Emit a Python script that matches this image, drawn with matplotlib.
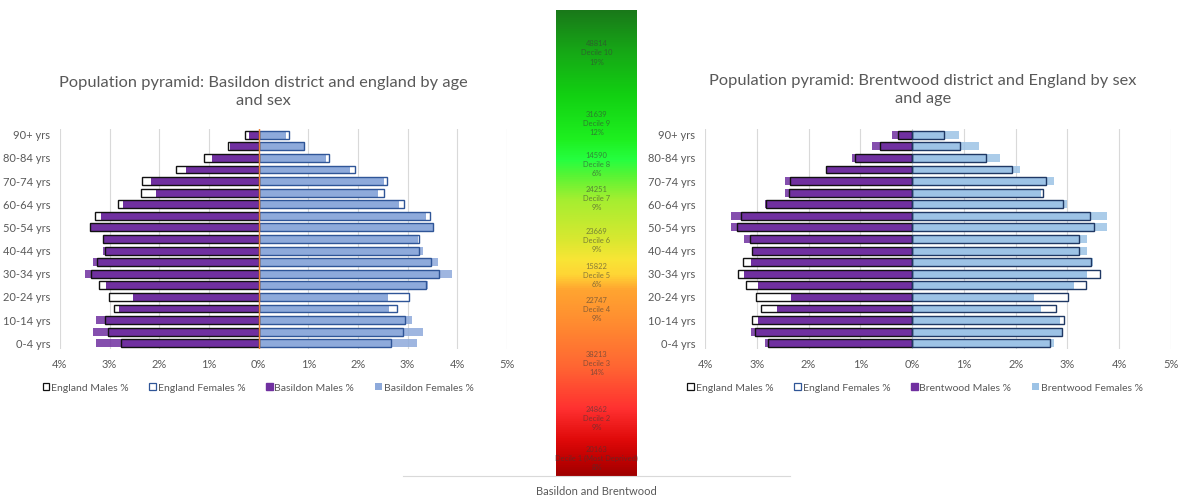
import numpy as np
import matplotlib
matplotlib.use("Agg")
import matplotlib.pyplot as plt
from matplotlib.colors import LinearSegmentedColormap
from matplotlib.patches import Patch

plt.rcParams['font.family'] = ['Lato', 'DejaVu Sans']

# Age bands, youngest first (bottom of the pyramid)
age_groups = ["0-4 yrs", "5-9 yrs", "10-14 yrs", "15-19 yrs", "20-24 yrs",
              "25-29 yrs", "30-34 yrs", "35-39 yrs", "40-44 yrs", "45-49 yrs",
              "50-54 yrs", "55-59 yrs", "60-64 yrs", "65-69 yrs", "70-74 yrs",
              "75-79 yrs", "80-84 yrs", "85-89 yrs", "90+ yrs"]

# Percent of population in each band
england_males = [2.78, 3.04, 3.09, 2.92, 3.01, 3.21, 3.37, 3.26, 3.09, 3.13,
                 3.39, 3.30, 2.83, 2.37, 2.35, 1.67, 1.11, 0.62, 0.28]
england_females = [2.66, 2.90, 2.94, 2.78, 3.02, 3.36, 3.63, 3.46, 3.22, 3.22,
                   3.51, 3.44, 2.92, 2.53, 2.59, 1.93, 1.42, 0.92, 0.61]
basildon_males = [3.28, 3.34, 3.28, 2.81, 2.54, 3.08, 3.50, 3.34, 3.13, 3.12,
                  3.39, 3.17, 2.74, 2.06, 2.16, 1.47, 0.94, 0.57, 0.20]
basildon_females = [3.19, 3.30, 3.09, 2.62, 2.61, 3.41, 3.89, 3.62, 3.30, 3.21,
                    3.50, 3.36, 2.83, 2.40, 2.52, 1.83, 1.36, 0.93, 0.55]
brentwood_males = [2.85, 3.11, 2.98, 2.60, 2.34, 2.98, 3.25, 3.12, 3.10, 3.25,
                   3.50, 3.50, 2.85, 2.46, 2.46, 1.67, 1.16, 0.77, 0.39]
brentwood_females = [2.74, 2.91, 2.86, 2.48, 2.35, 3.13, 3.38, 3.50, 3.38, 3.38,
                     3.77, 3.77, 2.99, 2.48, 2.74, 2.08, 1.69, 1.30, 0.91]

# Deprivation deciles for Basildon and Brentwood combined
decile_names = ["Decile 1 (Most Deprived)", "Decile 2", "Decile 3", "Decile 4",
                "Decile 5", "Decile 6", "Decile 7", "Decile 8", "Decile 9",
                "Decile 10"]
decile_counts = [20163, 24862, 38213, 22747, 15822, 23669, 24251, 14590,
                 31639, 48814]
decile_pct = [8, 9, 14, 9, 6, 9, 9, 6, 12, 19]

x_ticks = [-4, -3, -2, -1, 0, 1, 2, 3, 4, 5]

GREY = '#595959'
PURPLE = '#7030A0'

fig = plt.figure(figsize=(11.8, 4.98), dpi=100)
fig.patch.set_facecolor('white')

# Central stacked deprivation bar with gradient fill (drawn first, behind the pyramids)
axc = fig.add_axes([403 / 1180, 1 - 476 / 498, 387 / 1180, 466 / 498])
axc.patch.set_visible(False)
total = sum(decile_counts)
bottoms = np.concatenate([[0], np.cumsum(decile_counts)[:-1]])
width = 0.207
axc.bar(0, decile_counts, bottom=bottoms, width=width, color='none', lw=0)
stops = [(0.0, '#a00000'), (0.034, '#c00000'), (0.077, '#e00a0a'),
         (0.142, '#ff3030'), (0.234, '#ff6633'), (0.328, '#ff8c30'),
         (0.399, '#ffa530'), (0.431, '#ffd535'), (0.464, '#f8e535'),
         (0.506, '#d9e830'), (0.592, '#a5ee30'), (0.646, '#55f535'),
         (0.678, '#25ff40'), (0.721, '#1ef020'), (0.818, '#12d012'),
         (0.914, '#16a616'), (1.0, '#1a781a')]
cmap = LinearSegmentedColormap.from_list('depr', stops)
axc.imshow(np.linspace(0, 1, 512).reshape(-1, 1), cmap=cmap, origin='lower',
           extent=[-width / 2, width / 2, 0, total], aspect='auto', zorder=2)
for b, c, n, p in zip(bottoms, decile_counts, decile_names, decile_pct):
    axc.text(0, b + c / 2, f"{c}\n{n}\n{p}%", ha='center', va='center',
             fontsize=5.4, color='#3a3a3a', alpha=0.6, linespacing=1.35, zorder=3)
axc.set_xlim(-0.5, 0.5)
axc.set_ylim(0, total)
axc.set_xticks([0])
axc.set_xticklabels(["Basildon and Brentwood"])
axc.set_yticks([])
for name, s in axc.spines.items():
    s.set_visible(name == 'bottom')
axc.spines['bottom'].set_color('#d9d9d9')
axc.tick_params(length=0, colors=GREY, labelsize=8, pad=7)


def pyramid(rect, males, females, female_col, female_edge, zero_line):
    ax = fig.add_axes(rect)
    ax.patch.set_visible(False)
    y = np.arange(len(age_groups))
    em = np.array(england_males)
    ef = np.array(england_females)
    m = np.array(males)
    f = np.array(females)
    h = 0.68
    # England background (white boxes)
    ax.barh(y, -em, height=h, color='white', lw=0, zorder=2)
    ax.barh(y, ef, height=h, color='white', lw=0, zorder=2)
    # District bars: soft where they extend past England, solid where they overlap
    ax.barh(y, -m, height=h, color=PURPLE, alpha=0.85, lw=0, zorder=3)
    ax.barh(y, -np.minimum(m, em), height=h, color=PURPLE, lw=0, zorder=4)
    ax.barh(y, f, height=h, color=female_col, alpha=0.85, lw=0, zorder=3)
    ax.barh(y, np.minimum(f, ef), height=h, color=female_col, lw=0, zorder=4)
    # England outlines
    ax.barh(y, -em, height=h, facecolor='none', edgecolor='#111111', lw=1.0, zorder=5)
    ax.barh(y, ef, height=h, facecolor='none', edgecolor=female_edge, lw=1.0, zorder=5)
    if zero_line:
        ax.axvline(0, color='#ED7D31', lw=1.0, zorder=6)
    ax.set_xlim(-4, 5)
    ax.set_ylim(-0.5, len(age_groups) - 0.5)
    ax.set_xticks(x_ticks)
    ax.set_xticklabels([f"{abs(t)}%" for t in x_ticks])
    ax.set_yticks(y[::2])
    ax.set_yticklabels(age_groups[::2])
    ax.grid(axis='x', color='#d9d9d9', lw=0.8)
    ax.set_axisbelow(True)
    for s in ax.spines.values():
        s.set_visible(False)
    ax.tick_params(length=0, colors=GREY, labelsize=8)
    ax.tick_params(axis='x', pad=7)
    ax.tick_params(axis='y', pad=7)
    return ax


pyramid([60 / 1180, 1 - 349 / 498, 447 / 1180, 220 / 498],
        basildon_males, basildon_females, '#8EAADB', '#2F5597', True)
pyramid([705 / 1180, 1 - 349 / 498, 466 / 1180, 220 / 498],
        brentwood_males, brentwood_females, '#9DC3E6', '#1F3864', False)

fig.text(263 / 1180, 1 - 92 / 498,
         "Population pyramid: Basildon district and england by age\nand sex",
         ha='center', va='center', fontsize=11.8, color=GREY, linespacing=1.35)
fig.text(923 / 1180, 1 - 90 / 498,
         "Population pyramid: Brentwood district and England by sex\nand age",
         ha='center', va='center', fontsize=11.8, color=GREY, linespacing=1.35)


def legend(cx, district):
    handles = [Patch(facecolor='white', edgecolor='#111111', lw=0.9),
               Patch(facecolor='white', edgecolor='#2F5597', lw=0.9),
               Patch(facecolor=PURPLE, edgecolor=PURPLE),
               Patch(facecolor='#8EAADB' if district == 'Basildon' else '#9DC3E6',
                     edgecolor='none')]
    labels = ["England Males %", "England Females %",
              f"{district} Males %", f"{district} Females %"]
    lg = fig.legend(handles, labels, loc='center', bbox_to_anchor=(cx, 1 - 388 / 498),
                    ncol=4, frameon=False, fontsize=7.5, handlelength=0.65,
                    handleheight=0.65, handletextpad=0.15, columnspacing=2.0)
    for t in lg.get_texts():
        t.set_color(GREY)


legend(258 / 1180, 'Basildon')
legend(915 / 1180, 'Brentwood')

fig.savefig('out.png', dpi=100, facecolor='white')
